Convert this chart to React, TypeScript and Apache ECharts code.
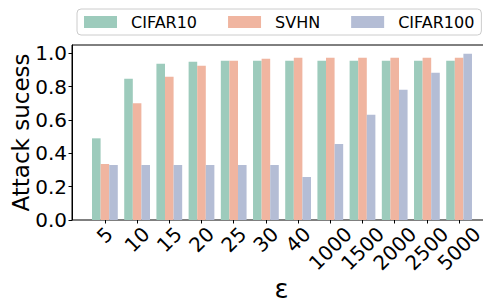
import React, { useEffect, useRef } from 'react';
import * as echarts from 'echarts';

const categories = ['5', '10', '15', '20', '25', '30', '40', '1000', '1500', '2000', '2500', '5000'];
const seriesNames = ['CIFAR10', 'SVHN', 'CIFAR100'];
const cifar10 = [0.49, 0.847, 0.937, 0.949, 0.955, 0.955, 0.955, 0.955, 0.955, 0.955, 0.955, 0.955];
const svhn = [0.336, 0.7, 0.859, 0.925, 0.955, 0.967, 0.973, 0.973, 0.973, 0.973, 0.973, 0.973];
const cifar100 = [0.33, 0.33, 0.33, 0.33, 0.33, 0.33, 0.258, 0.456, 0.631, 0.781, 0.883, 0.997];
const yTicks = [0, 0.2, 0.4, 0.6, 0.8, 1.0];
const colors = ['#9dcbbc', '#f0b5a0', '#b4bdd5'];

const FONT = 'DejaVu Sans';
const TICK_FS = 20;

function padFor(n: number) {
  const p = (13 + 0.354 * 0.636 * TICK_FS * (n - 1)) / 0.707;
  return [p, p, 0, 0];
}

export default function App() {
  const ref = useRef<HTMLDivElement>(null);
  useEffect(() => {
    if (!ref.current) return;
    const chart = echarts.init(ref.current, null, { renderer: 'svg' });
    const rich: any = {};
    [1, 2, 4].forEach((n) => {
      rich['p' + n] = { padding: padFor(n), fontSize: TICK_FS, fontFamily: FONT, color: '#000' };
    });
    const data = [cifar10, svhn, cifar100];
    chart.setOption({
      animation: false,
      textStyle: { fontFamily: FONT },
      legend: {
        left: 77,
        top: 9,
        padding: [5, 7, 5, 7],
        itemWidth: 33,
        itemHeight: 12,
        itemGap: 31,
        icon: 'rect',
        borderColor: '#cccccc',
        borderWidth: 1,
        borderRadius: 4,
        backgroundColor: '#fff',
        textStyle: { fontSize: 16, fontFamily: FONT, color: '#000', padding: [0, 0, 0, 9] },
        data: seriesNames,
      },
      grid: [
        { left: 72, right: -8, top: 45, bottom: 79, show: true, borderColor: '#000', borderWidth: 1, backgroundColor: 'transparent', containLabel: false, outerBoundsMode: 'none' },
        { left: 88.8, right: 7.8, top: 45, bottom: 79, containLabel: false, outerBoundsMode: 'none' },
      ],
      xAxis: [
        {
          gridIndex: 0, type: 'value', min: 0, max: 1,
          axisLine: { show: false }, axisTick: { show: false }, axisLabel: { show: false }, splitLine: { show: false },
          name: 'ε', nameLocation: 'middle', nameGap: 69, nameMoveOverlap: false,
          nameTextStyle: { fontSize: 26, lineHeight: 18, fontFamily: FONT, color: '#000', verticalAlign: 'middle' },
        },
        {
          gridIndex: 1, type: 'category', data: categories, boundaryGap: true,
          axisLine: { show: false },
          axisTick: { show: true, alignWithLabel: true, length: 3.5, lineStyle: { color: '#000', width: 1 } },
          axisLabel: {
            interval: 0, rotate: 45, align: 'center', verticalAlign: 'middle', margin: 2,
            fontSize: TICK_FS, fontFamily: FONT, color: '#000',
            formatter: (v: string) => `{p${v.length}|${v}}`,
            rich,
          },
        },
      ],
      yAxis: [
        {
          gridIndex: 0, type: 'value', min: 0, max: 1.05,
          axisLine: { show: true, lineStyle: { color: '#000', width: 1 } },
          axisTick: { show: true, length: 3.5, lineStyle: { color: '#000' }, customValues: yTicks },
          axisLabel: { fontSize: TICK_FS, fontFamily: FONT, color: '#000', margin: 5, customValues: yTicks, formatter: (v: number) => v.toFixed(1) },
          splitLine: { show: false },
          name: 'Attack sucess', nameLocation: 'middle', nameGap: 40, nameMoveOverlap: false,
          nameTextStyle: { fontSize: 23, fontFamily: FONT, color: '#000' },
        },
        { gridIndex: 1, type: 'value', min: 0, max: 1.05, show: false },
      ],
      series: seriesNames.map((name, i) => ({
        name, type: 'bar', xAxisIndex: 1, yAxisIndex: 1,
        data: data[i], barGap: '0%', barCategoryGap: '20%',
        itemStyle: { color: colors[i] },
      })),
    });
    return () => chart.dispose();
  }, []);
  return <div ref={ref} style={{ width: 483, height: 299, position: 'absolute', left: 0, top: 0 }} />;
}
